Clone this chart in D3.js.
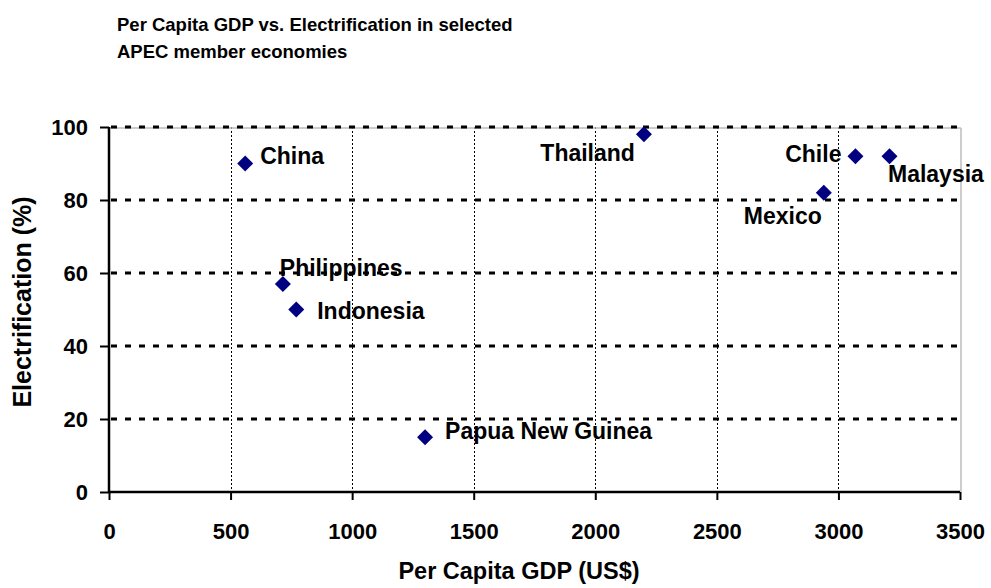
<!DOCTYPE html>
<html>
<head>
<meta charset="utf-8">
<script src="https://cdn.jsdelivr.net/npm/d3@7"></script>
<style>
  html, body { margin: 0; padding: 0; background: #fff; }
  svg { display: block; font-family: "Liberation Sans", Arial, Helvetica, sans-serif; font-weight: bold; }
</style>
</head>
<body>
<svg id="chart" width="991" height="588"></svg>
<script>
// ---- data ----
const economies = ["China", "Philippines", "Indonesia", "Papua New Guinea", "Thailand", "Mexico", "Chile", "Malaysia"];
const gdpPerCapita = [560, 715, 770, 1300, 2200, 2940, 3070, 3210];
const electrification = [90, 57, 50, 15, 98, 82, 92, 92];
const xTicks = [0, 500, 1000, 1500, 2000, 2500, 3000, 3500];
const yTicks = [0, 20, 40, 60, 80, 100];
const titleLines = ["Per Capita GDP vs. Electrification in selected", "APEC member economies"];
const xTitle = "Per Capita GDP (US$)";
const yTitle = "Electrification (%)";

// ---- layout: label placement relative to marker (dx, dy, anchor) ----
const labelPlacement = {
  "China": [15, 0, "start"],
  "Philippines": [-3, -8, "start"],
  "Indonesia": [21, 9, "start"],
  "Papua New Guinea": [20, 1.5, "start"],
  "Thailand": [-9, 27, "end"],
  "Mexico": [-2, 31, "end"],
  "Chile": [-14, 5.5, "end"],
  "Malaysia": [-1.5, 25.5, "start"]
};

const svg = d3.select("#chart");

const x = d3.scaleLinear().domain([0, 3500]).range([109, 960]);
const y = d3.scaleLinear().domain([0, 100]).range([492, 127]);

// title
svg.append("text")
  .attr("x", 117).attr("y", 31)
  .attr("font-size", 18.5)
  .selectAll("tspan").data(titleLines).join("tspan")
  .attr("x", 117).attr("dy", (d, i) => i === 0 ? 0 : 27)
  .text(d => d);

// vertical gridlines (thin dotted)
svg.append("g").selectAll("line")
  .data(xTicks.filter(t => t > 0 && t < 3500)).join("line")
  .attr("x1", d => Math.round(x(d)) + 0.5).attr("x2", d => Math.round(x(d)) + 0.5)
  .attr("y1", y(100)).attr("y2", y(0))
  .attr("stroke", "#000").attr("stroke-width", 1).attr("stroke-dasharray", "2,2");

// plot border (gray top/right)
svg.append("line").attr("x1", x(0)).attr("x2", x(3500) + 1).attr("y1", y(100) + 1).attr("y2", y(100) + 1)
  .attr("stroke", "#bdbdbd").attr("stroke-width", 1.5);
svg.append("line").attr("x1", x(3500) + 1).attr("x2", x(3500) + 1).attr("y1", y(100) + 1).attr("y2", y(0))
  .attr("stroke", "#bdbdbd").attr("stroke-width", 1.5);

// horizontal gridlines (thick dashed)
svg.append("g").selectAll("line")
  .data(yTicks.filter(t => t > 0)).join("line")
  .attr("x1", x(0) + 2).attr("x2", x(3500))
  .attr("y1", d => y(d)).attr("y2", d => y(d))
  .attr("stroke", "#000").attr("stroke-width", 3).attr("stroke-dasharray", "6,8");

// axes
const xAxis = d3.axisBottom(x).tickValues(xTicks).tickSize(8).tickPadding(23).tickFormat(d3.format("d"));
const yAxis = d3.axisLeft(y).tickValues(yTicks).tickSize(9).tickPadding(12).tickFormat(d3.format("d"));

const gx = svg.append("g").attr("transform", `translate(0,${y(0)})`).call(xAxis);
const gy = svg.append("g").attr("transform", `translate(${x(0)},0)`).call(yAxis);
[gx, gy].forEach(g => {
  g.select(".domain").attr("stroke", "#000").attr("stroke-width", 2.5);
  g.selectAll(".tick line").attr("stroke", "#000").attr("stroke-width", 2);
  g.selectAll(".tick text").attr("fill", "#000").attr("font-size", 22)
    .attr("font-family", "'Liberation Sans', Arial, sans-serif").attr("font-weight", "bold");
});
gx.select(".domain").attr("d", `M${x(0)},0H${x(3500)}`);
gy.select(".domain").attr("d", `M0,${y(0)}V${y(100)}`);

// axis titles
svg.append("text").attr("x", 519).attr("y", 579)
  .attr("text-anchor", "middle").attr("font-size", 23.5).text(xTitle);
svg.append("text").attr("transform", `translate(31,${302}) rotate(-90)`)
  .attr("text-anchor", "middle").attr("font-size", 25).text(yTitle);

// points
const pts = economies.map((name, i) => ({ name, gdp: gdpPerCapita[i], el: electrification[i] }));
const diamond = d3.symbol().type(d3.symbolSquare).size(128);
svg.append("g").selectAll("path").data(pts).join("path")
  .attr("d", diamond)
  .attr("transform", d => `translate(${x(d.gdp)},${y(d.el)}) rotate(45)`)
  .attr("fill", "#000080");

// labels
svg.append("g").selectAll("text").data(pts).join("text")
  .attr("x", d => x(d.gdp) + labelPlacement[d.name][0])
  .attr("y", d => y(d.el) + labelPlacement[d.name][1])
  .attr("text-anchor", d => labelPlacement[d.name][2])
  .attr("font-size", 23)
  .attr("fill", "#000")
  .text(d => d.name);
</script>
</body>
</html>
